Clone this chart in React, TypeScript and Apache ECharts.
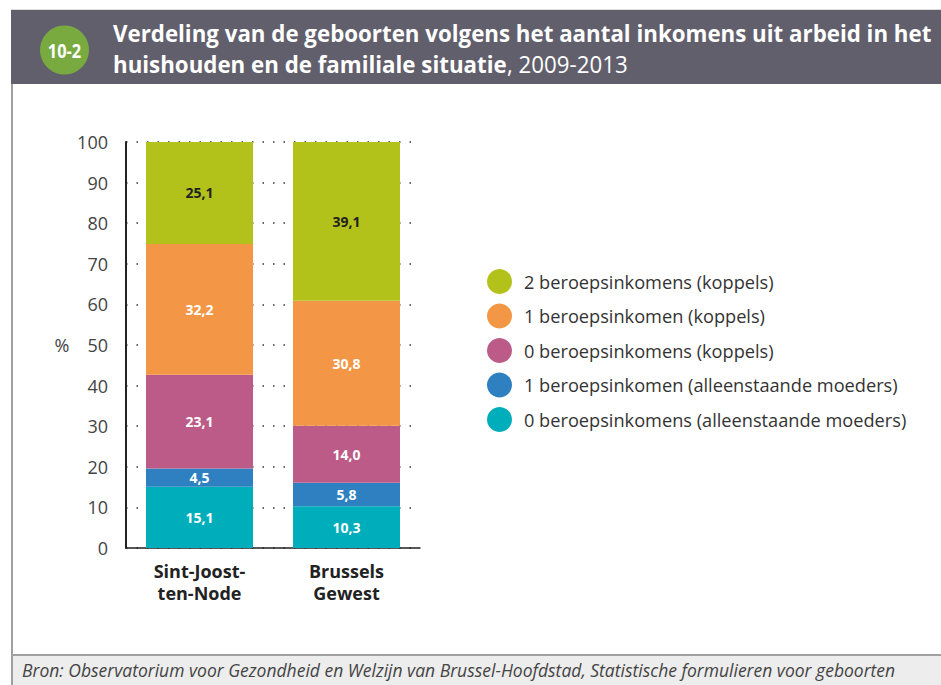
import React, { useEffect, useRef } from "react";
import * as echarts from "echarts";

const categories = ["Sint-Joost-\nten-Node", "Brussels\nGewest"];
const seriesNames = [
  "0 beroepsinkomens (alleenstaande moeders)",
  "1 beroepsinkomen (alleenstaande moeders)",
  "0 beroepsinkomens (koppels)",
  "1 beroepsinkomen (koppels)",
  "2 beroepsinkomens (koppels)",
];
const alleen0 = [15.1, 10.3];
const alleen1 = [4.5, 5.8];
const koppels0 = [23.1, 14.0];
const koppels1 = [32.2, 30.8];
const koppels2 = [25.1, 39.1];
const seriesValues = [alleen0, alleen1, koppels0, koppels1, koppels2];
const colors = ["#00aebb", "#2f80c1", "#bd5b88", "#f39645", "#b3c21b"];
const labelColors = ["#fff", "#fff", "#fff", "#fff", "#222"];
const legendOrder = [...seriesNames].reverse();

const SANS = "'Open Sans', 'Noto Sans', sans-serif";

export default function App() {
  const ref = useRef<HTMLDivElement>(null);
  useEffect(() => {
    if (!ref.current) return;
    const chart = echarts.init(ref.current, null, { renderer: "svg" });
    chart.setOption({
      animation: false,
      backgroundColor: "#fff",
      graphic: [
        { type: "rect", shape: { x: 11, y: 9, width: 930, height: 1 }, style: { fill: "#dddddd" } },
        { type: "rect", shape: { x: 11, y: 10, width: 930, height: 74 }, style: { fill: "#625f6d" } },
        { type: "rect", shape: { x: 11, y: 84, width: 2, height: 601 }, style: { fill: "#a0a0a0" } },
        { type: "rect", shape: { x: 13, y: 655, width: 928, height: 30 }, style: { fill: "#ededed" } },
        { type: "rect", shape: { x: 13, y: 654, width: 928, height: 2 }, style: { fill: "#a0a0a0" } },
        { type: "circle", shape: { cx: 64.5, cy: 50, r: 24.5 }, style: { fill: "#79aa3f" } },
        {
          type: "text", x: 64.5, y: 50, scaleX: 0.82,
          style: { text: "10-2", fill: "#fff", font: `bold 20px ${SANS}`, align: "center", verticalAlign: "middle" },
        },
        {
          type: "text", x: 113, y: 33, scaleX: 0.97,
          style: { text: "Verdeling van de geboorten volgens het aantal inkomens uit arbeid in het", fill: "#fff", font: `bold 23px ${SANS}`, verticalAlign: "middle" },
        },
        {
          type: "text", x: 113, y: 64, scaleX: 0.97,
          style: {
            text: "{b|huishouden en de familiale situatie}{r|, 2009-2013}",
            verticalAlign: "middle",
            rich: {
              b: { fill: "#fff", font: `bold 23px ${SANS}` },
              r: { fill: "#fff", font: `23px ${SANS}` },
            },
          },
        },
        {
          type: "text", x: 22, y: 670,
          style: { text: "Bron: Observatorium voor Gezondheid en Welzijn van Brussel-Hoofdstad, Statistische formulieren voor geboorten", fill: "#444", font: `italic 17.5px ${SANS}`, verticalAlign: "middle" },
        },
        {
          type: "text", x: 62, y: 345,
          style: { text: "%", fill: "#444", font: `18px ${SANS}`, align: "center", verticalAlign: "middle" },
        },
      ],
      legend: {
        orient: "vertical",
        left: 482,
        top: 264,
        icon: "circle",
        itemWidth: 25,
        itemHeight: 25,
        itemGap: 9.5,
        data: legendOrder,
        textStyle: { fontSize: 18.2, color: "#333", fontFamily: SANS, padding: [0, 0, 0, 7] },
      },
      grid: { left: 126, top: 142, width: 294, height: 406 },
      xAxis: {
        type: "category",
        data: categories,
        axisLine: { lineStyle: { color: "#222", width: 1.5 } },
        axisTick: { show: false },
        axisLabel: { fontSize: 18, fontWeight: "bold", color: "#222", fontFamily: SANS, lineHeight: 22, margin: 12 },
      },
      yAxis: {
        type: "value",
        min: 0,
        max: 100,
        interval: 10,
        axisLine: { show: true, lineStyle: { color: "#222", width: 2 } },
        axisTick: { show: false },
        axisLabel: { fontSize: 18, color: "#444", fontFamily: SANS, margin: 18 },
        splitLine: { lineStyle: { color: "#333", width: 1.5, type: [1.5, 9] } },
      },
      series: seriesNames.map((name, i) => ({
        name,
        type: "bar",
        stack: "total",
        barWidth: 107,
        data: seriesValues[i],
        itemStyle: { color: colors[i] },
        label: {
          show: true,
          position: "inside",
          color: labelColors[i],
          fontSize: 14,
          fontWeight: "bold",
          fontFamily: SANS,
          formatter: (p: any) => p.value.toFixed(1).replace(".", ","),
        },
      })),
    });
    return () => chart.dispose();
  }, []);
  return <div ref={ref} style={{ position: "absolute", left: 0, top: 0, width: 941, height: 685 }} />;
}
